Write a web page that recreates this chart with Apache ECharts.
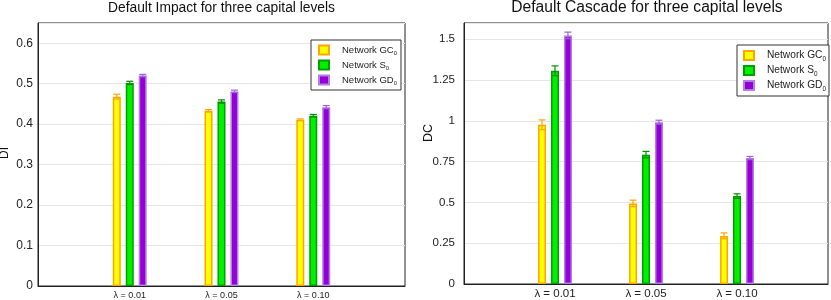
<!DOCTYPE html>
<html>
<head>
<meta charset="utf-8">
<script src="https://cdn.jsdelivr.net/npm/echarts@6/dist/echarts.min.js"></script>
<style>html,body{margin:0;padding:0;background:#fff}#c{width:831px;height:300px}</style>
</head>
<body>
<div id="c"></div>
<script>
// ---- data ----
const categories = ['', 'λ = 0.01', 'λ = 0.05', 'λ = 0.10', ''];
const seriesNames = ['Network GC', 'Network S', 'Network GD'];
// Default Impact (DI)
const diGC = [0.468, 0.433, 0.411];
const diS  = [0.502, 0.456, 0.421];
const diGD = [0.520, 0.481, 0.442];
const diErrGC = [0.006, 0.003, 0.002];
const diErrS  = [0.004, 0.004, 0.003];
const diErrGD = [0.003, 0.003, 0.004];
// Default Cascade (DC)
const dcGC = [0.976, 0.494, 0.295];
const dcS  = [1.307, 0.793, 0.539];
const dcGD = [1.524, 0.992, 0.772];
const dcErrGC = [0.030, 0.020, 0.018];
const dcErrS  = [0.030, 0.020, 0.014];
const dcErrGD = [0.020, 0.012, 0.010];
const diTicks = { min: 0, max: 0.65, interval: 0.1 };
const dcTicks = { min: 0, max: 1.6, interval: 0.25 };

// ---- styles ----
const FONT = 'Liberation Sans, Arial, sans-serif';
const fills   = ['#ffff00', '#00f000', '#9400d3'];
const borders = ['#ffa500', '#00a000', '#b37ee6'];
const errCols = ['#ffa500', '#009000', '#a060e0'];
const BAR_W = 8;
const BAR_GAP = 0.62;
const STEP = BAR_W * (1 + BAR_GAP);

function padData(arr) { return ['-'].concat(arr).concat(['-']); }
function errData(vals, errs) {
  return vals.map((v, i) => [i + 1, v - errs[i], v + errs[i]]);
}
function errRender(k) {
  const off = (k - 1) * STEP;
  return function (params, api) {
    const idx = api.value(0);
    const lo = api.coord([idx, api.value(1)]);
    const hi = api.coord([idx, api.value(2)]);
    const x = lo[0] + off;
    const cw = 3.5;
    const st = { stroke: errCols[k], lineWidth: 1.2 };
    return { type: 'group', children: [
      { type: 'line', shape: { x1: x, y1: lo[1], x2: x, y2: hi[1] }, style: st },
      { type: 'line', shape: { x1: x - cw, y1: lo[1], x2: x + cw, y2: lo[1] }, style: st },
      { type: 'line', shape: { x1: x - cw, y1: hi[1], x2: x + cw, y2: hi[1] }, style: st }
    ]};
  };
}

function buildSeries(gi, vals, errs) {
  const out = [];
  vals.forEach((v, k) => {
    out.push({
      type: 'bar', name: seriesNames[k], xAxisIndex: gi, yAxisIndex: gi,
      data: padData(v), barWidth: BAR_W, barGap: (BAR_GAP * 100) + '%',
      itemStyle: { color: fills[k], borderColor: borders[k], borderWidth: 1.5 },
      emphasis: { disabled: true }, z: 2
    });
  });
  vals.forEach((v, k) => {
    out.push({
      type: 'custom', xAxisIndex: gi, yAxisIndex: gi, name: 'err' + gi + k,
      data: errData(v, errs[k]), encode: { x: 0, y: [1, 2] },
      renderItem: errRender(k), z: 5, silent: true
    });
  });
  return out;
}

function legendFor(left, top, fs, lh, gap, spacer, padding) {
  return {
    orient: 'vertical', left: left, top: top, data: seriesNames,
    itemWidth: 10, itemHeight: 9, itemGap: gap, padding: padding,
    borderColor: '#333', borderWidth: 1, backgroundColor: '#fff',
    icon: 'rect', selectedMode: false,
    formatter: n => '{g|}{a|' + n + '}{s|0}',
    textStyle: {
      fontFamily: FONT, color: '#222', fontSize: fs, lineHeight: lh,
      rich: {
        g: { width: spacer },
        a: { fontSize: fs, fontFamily: FONT, color: '#222', lineHeight: lh },
        s: { fontSize: fs * 0.62, fontFamily: FONT, color: '#222', verticalAlign: 'bottom', lineHeight: lh * 0.7 }
      }
    }
  };
}

const chart = echarts.init(document.getElementById('c'), null, { renderer: 'canvas' });
const option = {
  animation: false,
  backgroundColor: '#fff',
  title: [
    { text: 'Default Impact for three capital levels', left: 221.5, top: 1, padding: 0, textAlign: 'center',
      textStyle: { fontFamily: FONT, fontWeight: 'normal', fontSize: 13.8, color: '#111' } },
    { text: 'Default Cascade for three capital levels', left: 647, top: 0, padding: 0, textAlign: 'center',
      textStyle: { fontFamily: FONT, fontWeight: 'normal', fontSize: 15.6, color: '#111' } }
  ],
  grid: [
    { left: 38, right: 426, top: 23, bottom: 14, show: true, borderColor: '#222', borderWidth: 1, backgroundColor: 'transparent' },
    { left: 464, right: 1, top: 23, bottom: 14, show: true, borderColor: '#222', borderWidth: 1, backgroundColor: 'transparent' }
  ],
  xAxis: [0, 1].map(gi => ({
    type: 'category', gridIndex: gi, data: categories, boundaryGap: false,
    axisTick: { show: false },
    axisLine: { show: true, lineStyle: { color: '#222', width: 1 } },
    splitLine: { show: false },
    axisLabel: { interval: 0, margin: gi === 0 ? 5 : 4, fontFamily: FONT, color: '#222', fontSize: gi === 0 ? 9 : 11.5 }
  })),
  yAxis: [
    { type: 'value', gridIndex: 0, min: diTicks.min, max: diTicks.max, interval: diTicks.interval,
      axisLine: { show: true, lineStyle: { color: '#222' } }, axisTick: { show: false },
      splitLine: { show: true, lineStyle: { color: '#e6e6e6', width: 1 } },
      axisLabel: { showMaxLabel: false, margin: 5, fontFamily: FONT, color: '#222', fontSize: 12 } },
    { type: 'value', gridIndex: 1, min: dcTicks.min, max: dcTicks.max, interval: dcTicks.interval,
      axisLine: { show: true, lineStyle: { color: '#222' } }, axisTick: { show: false },
      splitLine: { show: true, lineStyle: { color: '#e6e6e6', width: 1 } },
      axisLabel: { showMaxLabel: false, margin: 9, fontFamily: FONT, color: '#222', fontSize: 11.5 } }
  ],
  legend: [
    legendFor(311, 40, 9.5, 12, 3, 8, [4, 4, 4, 7]),
    legendFor(737, 45, 10.2, 13, 2, 8, [4, 3, 4, 6])
  ],
  graphic: [
    { type: 'text', x: 5, y: 153, rotation: Math.PI / 2,
      style: { text: 'DI', x: 0, y: 0, align: 'center', verticalAlign: 'middle', font: '12px ' + FONT, fill: '#111' } },
    { type: 'text', x: 429, y: 133, rotation: Math.PI / 2,
      style: { text: 'DC', x: 0, y: 0, align: 'center', verticalAlign: 'middle', font: '12.5px ' + FONT, fill: '#111' } }
  ],
  series: [].concat(
    buildSeries(0, [diGC, diS, diGD], [diErrGC, diErrS, diErrGD]),
    buildSeries(1, [dcGC, dcS, dcGD], [dcErrGC, dcErrS, dcErrGD])
  )
};
chart.setOption(option);
</script>
</body>
</html>
